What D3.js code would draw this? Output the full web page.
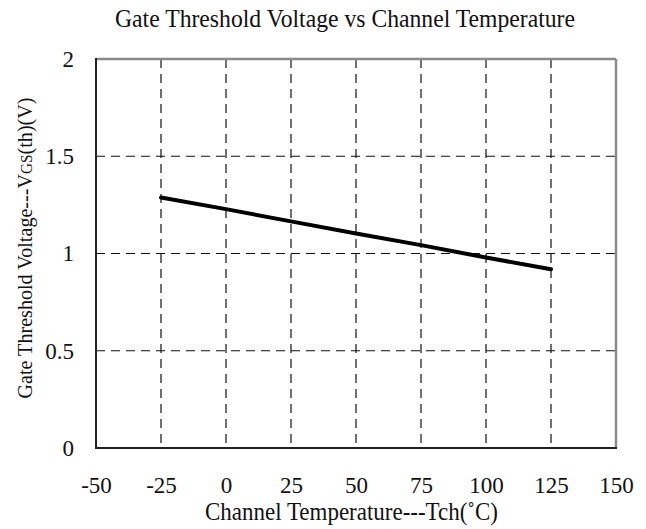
<!DOCTYPE html>
<html>
<head>
<meta charset="utf-8">
<script src="https://cdn.jsdelivr.net/npm/d3@7"></script>
<style>
  body { margin: 0; background: #fff; }
  svg text { font-family: "Liberation Serif", "Times New Roman", "DejaVu Serif", serif !important; fill: #111; }
</style>
</head>
<body>
<div class="chart"></div>
<script>
const temps = [-25, 0, 25, 50, 75, 100, 125];
const vth = [1.288, 1.228, 1.165, 1.103, 1.043, 0.979, 0.919];
const xTicks = [-50, -25, 0, 25, 50, 75, 100, 125, 150];
const yTicks = [0, 0.5, 1, 1.5, 2];

const W = 646, H = 529;
const margin = { top: 59, right: 30, bottom: 81, left: 96 },
    width = W - margin.left - margin.right,
    height = H - margin.top - margin.bottom;

const root = d3.select(".chart")
    .append("svg")
    .attr("width", W)
    .attr("height", H);

const svg = root.append("g")
    .attr("transform", "translate(" + margin.left + "," + margin.top + ")");

const scaleX = d3.scaleLinear().domain([-50, 150]).range([0, width]);
const scaleY = d3.scaleLinear().domain([0, 2]).range([height, 0]);

// Dashed grid
svg.append("g")
    .selectAll("line")
    .data(xTicks.slice(1, -1))
    .enter().append("line")
    .attr("x1", d => scaleX(d)).attr("x2", d => scaleX(d))
    .attr("y1", 0).attr("y2", height)
    .attr("stroke", "#111")
    .attr("stroke-width", 1.2)
    .attr("stroke-dasharray", "9,6");

svg.append("g")
    .selectAll("line")
    .data(yTicks.slice(1, -1))
    .enter().append("line")
    .attr("x1", 0).attr("x2", width)
    .attr("y1", d => scaleY(d)).attr("y2", d => scaleY(d))
    .attr("stroke", "#111")
    .attr("stroke-width", 1.2)
    .attr("stroke-dasharray", "9,6");

// Frame: top/right grey, left/bottom dark
svg.append("line").attr("x1", 0).attr("x2", width).attr("y1", 0).attr("y2", 0)
    .attr("stroke", "#8a8a8a").attr("stroke-width", 2.5);
svg.append("line").attr("x1", width).attr("x2", width).attr("y1", 0).attr("y2", height)
    .attr("stroke", "#8a8a8a").attr("stroke-width", 2.5);

// Axes (labels only, domain drawn as frame)
const xAxis = svg.append("g")
    .attr("transform", "translate(0," + height + ")")
    .call(d3.axisBottom(scaleX).tickValues(xTicks).tickSize(0).tickPadding(29).tickFormat(d => String(d)));
const yAxis = svg.append("g")
    .call(d3.axisLeft(scaleY).tickValues(yTicks).tickSize(0).tickPadding(22).tickFormat(d => String(d)));

[xAxis, yAxis].forEach(ax => {
    ax.attr("font-family", null).attr("font-size", null);
    ax.select(".domain").remove();
    ax.selectAll("text")
        .style("font-size", "23px")
        .attr("fill", "#111");
});

svg.append("line").attr("x1", 0).attr("x2", 0).attr("y1", -1).attr("y2", height + 1)
    .attr("stroke", "#222").attr("stroke-width", 2);
svg.append("line").attr("x1", -1).attr("x2", width + 1).attr("y1", height).attr("y2", height)
    .attr("stroke", "#222").attr("stroke-width", 2);

// Data line
const lineFunc = d3.line()
    .x((d, i) => scaleX(temps[i]))
    .y(d => scaleY(d));

svg.append("path")
    .attr("d", lineFunc(vth))
    .attr("fill", "none")
    .attr("stroke", "#000")
    .attr("stroke-width", 4)
    .attr("stroke-linecap", "round")
    .attr("stroke-linejoin", "round");

// Titles
root.append("text")
    .attr("x", 345)
    .attr("y", 27)
    .attr("text-anchor", "middle")
    .style("font-size", "25px")
    .attr("textLength", 460)
    .attr("lengthAdjust", "spacingAndGlyphs")
    .text("Gate Threshold Voltage vs Channel Temperature");

root.append("text")
    .attr("x", 351.5)
    .attr("y", 520)
    .attr("text-anchor", "middle")
    .style("font-size", "25px")
    .attr("textLength", 293)
    .attr("lengthAdjust", "spacingAndGlyphs")
    .text("Channel Temperature---Tch(\u02DAC)");

const yTitle = root.append("text")
    .attr("transform", "translate(32,248) rotate(-90)")
    .attr("text-anchor", "middle")
    .style("font-size", "21px")
    .attr("textLength", 301)
    .attr("lengthAdjust", "spacingAndGlyphs");
yTitle.append("tspan").text("Gate Threshold Voltage---V");
yTitle.append("tspan").style("font-size", "16px").text("GS");
yTitle.append("tspan").text("(th)(V)");
</script>
</body>
</html>
